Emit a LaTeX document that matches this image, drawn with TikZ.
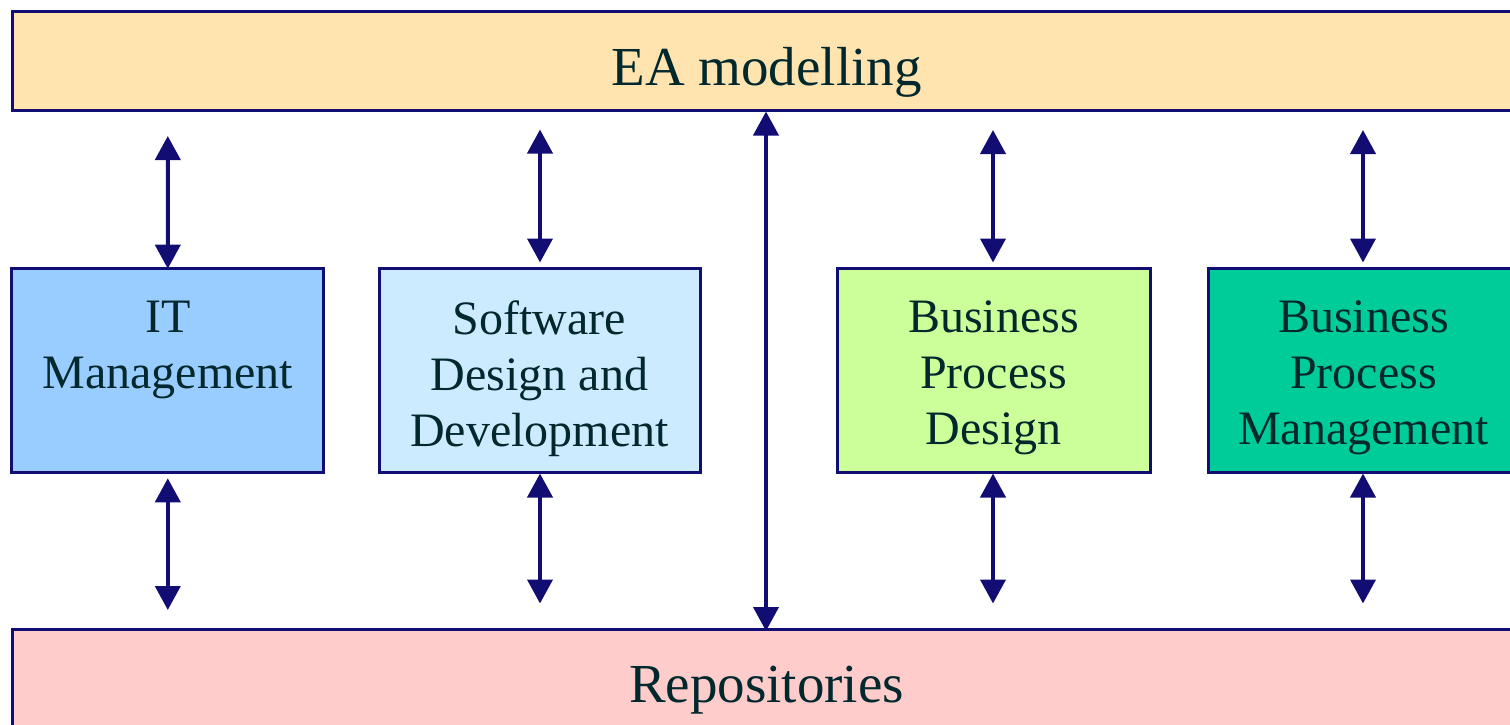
\documentclass[tikz,border=0pt]{standalone}
\usepackage{fontspec}
\setmainfont{Liberation Serif}
\usetikzlibrary{arrows.meta}
\definecolor{navyc}{RGB}{17,13,115}
\definecolor{textc}{RGB}{0,40,45}
\definecolor{eac}{RGB}{255,228,176}
\definecolor{repoc}{RGB}{255,204,204}
\definecolor{itc}{RGB}{153,204,255}
\definecolor{swc}{RGB}{204,235,255}
\definecolor{bpdc}{RGB}{204,255,153}
\definecolor{bpmc}{RGB}{0,204,153}
\begin{document}
\begin{tikzpicture}[x=1pt,y=-1pt,
  box/.style={draw=navyc, line width=3pt, rectangle, inner sep=0pt, outer sep=0pt, anchor=north west},
  rowbox/.style={box, minimum height=203.8pt},
  txt/.style={text=textc, inner sep=0pt, align=center, anchor=north, font=\fontsize{48}{56}\selectfont},
  big/.style={text=textc, inner sep=0pt, anchor=base, font=\fontsize{55}{60}\selectfont},
  link/.style={draw=navyc, line width=4pt, {Triangle[length=24pt,width=25pt]}-{Triangle[length=24pt,width=25pt]}}]
\clip (0,0) rectangle (1510,725);
% bands
\node[box, fill=eac, minimum width=1510pt, minimum height=99.3pt] (ea) at (12.5,11.4) {};
\node[box, fill=repoc, minimum width=1510pt, minimum height=100pt] (repo) at (12.5,629.3) {};
\node[big] (eat) at (766.5,85) {EA modelling};
\node[big] (repot) at (766.5,702.7) {Repositories};
% row boxes
\node[rowbox, fill=itc, minimum width=312.2pt] (it) at (11.7,268.7) {};
\node[rowbox, fill=swc, minimum width=321pt] (sw) at (379,268.7) {};
\node[rowbox, fill=bpdc, minimum width=313pt] (bpd) at (837,268.7) {};
\node[rowbox, fill=bpmc, minimum width=312pt] (bpm) at (1208.3,268.7) {};
\node[txt] (itt) at (167.8,300.5) {IT\\Management};
\node[txt] (swt) at (539.5,300.5) {Software\\Design and\\Development};
\node[txt] (bpdt) at (993.5,300.5) {Business\\Process\\Design};
\node[txt] (bpmt) at (1363.5,300.5) {Business\\Process\\Management};
% arrow end points
\coordinate (it1) at (167.8,136);
\coordinate (it2) at (167.8,478.3);
\coordinate (it3) at (167.8,610);
\coordinate (sw1) at (540,129.5);
\coordinate (sw2) at (540,262.5);
\coordinate (sw3) at (540,473.5);
\coordinate (sw4) at (540,603.5);
\coordinate (bpd1) at (993,130);
\coordinate (bpd2) at (993,262.5);
\coordinate (bpd3) at (993,473.5);
\coordinate (bpd4) at (993,603.5);
\coordinate (bpm1) at (1363,130);
\coordinate (bpm2) at (1363,262.5);
\coordinate (bpm3) at (1363,473.5);
\coordinate (bpm4) at (1363,603.5);
\coordinate (c1) at (766,111.5);
\coordinate (c2) at (766,631);
% connectors
\draw[link] (it1) -- (it.north);
\draw[link] (it2) -- (it3);
\draw[link] (sw1) -- (sw2);
\draw[link] (sw3) -- (sw4);
\draw[link] (bpd1) -- (bpd2);
\draw[link] (bpd3) -- (bpd4);
\draw[link] (bpm1) -- (bpm2);
\draw[link] (bpm3) -- (bpm4);
\draw[link] (c1) -- (c2);
\end{tikzpicture}
\end{document}
